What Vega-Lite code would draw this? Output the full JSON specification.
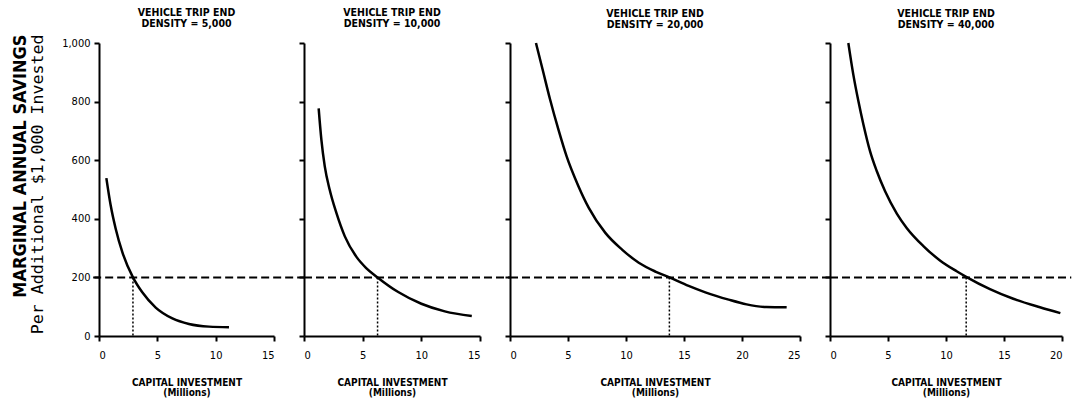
{
  "$schema": "https://vega.github.io/schema/vega-lite/v6.json",
  "background": "white",
  "padding": {"left": 12, "top": 7, "right": 5, "bottom": 2},
  "title": {
    "text": "MARGINAL ANNUAL SAVINGS",
    "subtitle": "Per Additional $1,000 Invested",
    "orient": "left",
    "anchor": "end",
    "font": "DejaVu Sans Condensed",
    "fontSize": 18,
    "fontWeight": "bold",
    "color": "black",
    "subtitleFont": "DejaVu Sans Mono",
    "subtitleFontSize": 16.6,
    "subtitleColor": "black",
    "subtitlePadding": 0,
    "offset": 15,
    "dx": -27
  },
  "datasets": {
    "curves": [
      {"panel": 1, "investment": 0.63, "savings": 539},
      {"panel": 1, "investment": 1.0, "savings": 446},
      {"panel": 1, "investment": 1.43, "savings": 366},
      {"panel": 1, "investment": 2.0, "savings": 286},
      {"panel": 1, "investment": 2.91, "savings": 200},
      {"panel": 1, "investment": 3.71, "savings": 149},
      {"panel": 1, "investment": 4.86, "savings": 97},
      {"panel": 1, "investment": 6.29, "savings": 60},
      {"panel": 1, "investment": 7.71, "savings": 41},
      {"panel": 1, "investment": 9.43, "savings": 32},
      {"panel": 1, "investment": 11.14, "savings": 30},
      {"panel": 2, "investment": 1.25, "savings": 777},
      {"panel": 2, "investment": 1.48, "savings": 670},
      {"panel": 2, "investment": 1.77, "savings": 579},
      {"panel": 2, "investment": 2.19, "savings": 499},
      {"panel": 2, "investment": 2.76, "savings": 420},
      {"panel": 2, "investment": 3.48, "savings": 340},
      {"panel": 2, "investment": 4.47, "savings": 270},
      {"panel": 2, "investment": 5.3, "savings": 232},
      {"panel": 2, "investment": 6.27, "savings": 200},
      {"panel": 2, "investment": 8.03, "savings": 150},
      {"panel": 2, "investment": 10.0, "savings": 110},
      {"panel": 2, "investment": 12.0, "savings": 84},
      {"panel": 2, "investment": 14.3, "savings": 68},
      {"panel": 3, "investment": 2.24, "savings": 1000},
      {"panel": 3, "investment": 2.87, "savings": 900},
      {"panel": 3, "investment": 3.45, "savings": 808},
      {"panel": 3, "investment": 4.17, "savings": 705},
      {"panel": 3, "investment": 4.89, "savings": 612},
      {"panel": 3, "investment": 5.89, "savings": 512},
      {"panel": 3, "investment": 6.78, "savings": 438},
      {"panel": 3, "investment": 8.22, "savings": 352},
      {"panel": 3, "investment": 9.66, "savings": 295},
      {"panel": 3, "investment": 11.1, "savings": 250},
      {"panel": 3, "investment": 12.53, "savings": 220},
      {"panel": 3, "investment": 13.74, "savings": 200},
      {"panel": 3, "investment": 15.4, "savings": 171},
      {"panel": 3, "investment": 16.84, "savings": 149},
      {"panel": 3, "investment": 18.85, "savings": 124},
      {"panel": 3, "investment": 20.4, "savings": 108},
      {"panel": 3, "investment": 22.1, "savings": 99},
      {"panel": 3, "investment": 23.85, "savings": 98},
      {"panel": 4, "investment": 1.58, "savings": 1000},
      {"panel": 4, "investment": 2.01, "savings": 892},
      {"panel": 4, "investment": 2.45, "savings": 801},
      {"panel": 4, "investment": 2.88, "savings": 722},
      {"panel": 4, "investment": 3.45, "savings": 631},
      {"panel": 4, "investment": 4.03, "savings": 563},
      {"panel": 4, "investment": 4.75, "savings": 494},
      {"panel": 4, "investment": 5.76, "savings": 418},
      {"panel": 4, "investment": 6.61, "savings": 369},
      {"panel": 4, "investment": 8.05, "savings": 307},
      {"panel": 4, "investment": 9.48, "savings": 258},
      {"panel": 4, "investment": 10.92, "savings": 221},
      {"panel": 4, "investment": 11.74, "savings": 202},
      {"panel": 4, "investment": 13.79, "savings": 160},
      {"panel": 4, "investment": 15.8, "savings": 127},
      {"panel": 4, "investment": 18.1, "savings": 98},
      {"panel": 4, "investment": 19.86, "savings": 78}
    ],
    "thresholds": [
      {"panel": 1, "savings": 200, "crossing": 2.91, "from": -0.5, "to": 17.6},
      {"panel": 2, "savings": 200, "crossing": 6.27, "from": 0, "to": 17.6},
      {"panel": 3, "savings": 200, "crossing": 13.74, "from": 0, "to": 27.7},
      {"panel": 4, "savings": 200, "crossing": 11.74, "from": 0, "to": 20.8}
    ]
  },
  "spacing": 30,
  "bounds": "flush",
  "config": {
    "view": {"stroke": null},
    "axis": {
      "domainColor": "black",
      "domainWidth": 2,
      "tickColor": "black",
      "tickWidth": 2,
      "tickSize": 5,
      "grid": false,
      "labelFont": "DejaVu Sans Condensed",
      "labelFontSize": 11,
      "labelColor": "black",
      "titleFont": "DejaVu Sans Condensed",
      "titleFontSize": 10,
      "titleFontWeight": "bold",
      "titleColor": "black",
      "titleLineHeight": 10
    },
    "axisX": {"labelPadding": 8, "titlePadding": 17},
    "axisY": {"labelPadding": 4},
    "title": {
      "font": "DejaVu Sans Condensed",
      "fontSize": 10.5,
      "fontWeight": "bold",
      "color": "black",
      "lineHeight": 11,
      "offset": 8
    }
  },
  "hconcat": [
    {
      "width": 175, "height": 293,
      "title": {"text": ["VEHICLE TRIP END", "DENSITY = 5,000"]},
      "layer": [
        {
          "data": {"name": "curves"},
          "transform": [{"filter": "datum.panel == 1"}],
          "mark": {"type": "line", "interpolate": "monotone", "color": "black", "strokeWidth": 2.5},
          "encoding": {
            "x": {"field": "investment", "type": "quantitative", "title": ["CAPITAL INVESTMENT", "(Millions)"], "scale": {"domain": [0, 15], "nice": false}, "axis": {"values": [0, 5, 10, 15]}},
            "y": {"field": "savings", "type": "quantitative", "title": null, "scale": {"domain": [0, 1000], "nice": false}, "axis": {"values": [0, 200, 400, 600, 800, 1000], "format": ",d"}}
          }
        },
        {
          "data": {"name": "thresholds"},
          "transform": [{"filter": "datum.panel == 1"}],
          "mark": {"type": "rule", "strokeDash": [8, 4], "strokeWidth": 2, "color": "black", "clip": false},
          "encoding": {
            "x": {"field": "from", "type": "quantitative", "title": ["CAPITAL INVESTMENT", "(Millions)"]},
            "x2": {"field": "to"},
            "y": {"field": "savings", "type": "quantitative", "title": null}
          }
        },
        {
          "data": {"name": "thresholds"},
          "transform": [{"filter": "datum.panel == 1"}],
          "mark": {"type": "rule", "strokeDash": [2, 2], "strokeWidth": 1.5, "color": "black"},
          "encoding": {
            "x": {"field": "crossing", "type": "quantitative", "title": ["CAPITAL INVESTMENT", "(Millions)"]},
            "y": {"field": "savings", "type": "quantitative", "title": null},
            "y2": {"datum": 0}
          }
        }
      ]
    },
    {
      "width": 176, "height": 293,
      "title": {"text": ["VEHICLE TRIP END", "DENSITY = 10,000"], "offset": 13},
      "layer": [
        {
          "data": {"name": "curves"},
          "transform": [{"filter": "datum.panel == 2"}],
          "mark": {"type": "line", "interpolate": "monotone", "color": "black", "strokeWidth": 2.5},
          "encoding": {
            "x": {"field": "investment", "type": "quantitative", "title": ["CAPITAL INVESTMENT", "(Millions)"], "scale": {"domain": [0, 15], "nice": false}, "axis": {"values": [0, 5, 10, 15]}},
            "y": {"field": "savings", "type": "quantitative", "title": null, "scale": {"domain": [0, 1000], "nice": false}, "axis": {"values": [0, 200, 400, 600, 800, 1000], "labels": false}}
          }
        },
        {
          "data": {"name": "thresholds"},
          "transform": [{"filter": "datum.panel == 2"}],
          "mark": {"type": "rule", "strokeDash": [8, 4], "strokeWidth": 2, "color": "black", "clip": false},
          "encoding": {
            "x": {"field": "from", "type": "quantitative", "title": ["CAPITAL INVESTMENT", "(Millions)"]},
            "x2": {"field": "to"},
            "y": {"field": "savings", "type": "quantitative", "title": null}
          }
        },
        {
          "data": {"name": "thresholds"},
          "transform": [{"filter": "datum.panel == 2"}],
          "mark": {"type": "rule", "strokeDash": [2, 2], "strokeWidth": 1.5, "color": "black"},
          "encoding": {
            "x": {"field": "crossing", "type": "quantitative", "title": ["CAPITAL INVESTMENT", "(Millions)"]},
            "y": {"field": "savings", "type": "quantitative", "title": null},
            "y2": {"datum": 0}
          }
        }
      ]
    },
    {
      "width": 290, "height": 293,
      "title": {"text": ["VEHICLE TRIP END", "DENSITY = 20,000"]},
      "layer": [
        {
          "data": {"name": "curves"},
          "transform": [{"filter": "datum.panel == 3"}],
          "mark": {"type": "line", "interpolate": "monotone", "color": "black", "strokeWidth": 2.5},
          "encoding": {
            "x": {"field": "investment", "type": "quantitative", "title": ["CAPITAL INVESTMENT", "(Millions)"], "scale": {"domain": [0, 25], "nice": false}, "axis": {"values": [0, 5, 10, 15, 20, 25]}},
            "y": {"field": "savings", "type": "quantitative", "title": null, "scale": {"domain": [0, 1000], "nice": false}, "axis": {"values": [0, 200, 400, 600, 800, 1000], "labels": false}}
          }
        },
        {
          "data": {"name": "thresholds"},
          "transform": [{"filter": "datum.panel == 3"}],
          "mark": {"type": "rule", "strokeDash": [8, 4], "strokeWidth": 2, "color": "black", "clip": false},
          "encoding": {
            "x": {"field": "from", "type": "quantitative", "title": ["CAPITAL INVESTMENT", "(Millions)"]},
            "x2": {"field": "to"},
            "y": {"field": "savings", "type": "quantitative", "title": null}
          }
        },
        {
          "data": {"name": "thresholds"},
          "transform": [{"filter": "datum.panel == 3"}],
          "mark": {"type": "rule", "strokeDash": [2, 2], "strokeWidth": 1.5, "color": "black"},
          "encoding": {
            "x": {"field": "crossing", "type": "quantitative", "title": ["CAPITAL INVESTMENT", "(Millions)"]},
            "y": {"field": "savings", "type": "quantitative", "title": null},
            "y2": {"datum": 0}
          }
        }
      ]
    },
    {
      "width": 232, "height": 293,
      "title": {"text": ["VEHICLE TRIP END", "DENSITY = 40,000"]},
      "layer": [
        {
          "data": {"name": "curves"},
          "transform": [{"filter": "datum.panel == 4"}],
          "mark": {"type": "line", "interpolate": "monotone", "color": "black", "strokeWidth": 2.5},
          "encoding": {
            "x": {"field": "investment", "type": "quantitative", "title": ["CAPITAL INVESTMENT", "(Millions)"], "scale": {"domain": [0, 20], "nice": false}, "axis": {"values": [0, 5, 10, 15, 20]}},
            "y": {"field": "savings", "type": "quantitative", "title": null, "scale": {"domain": [0, 1000], "nice": false}, "axis": {"values": [0, 200, 400, 600, 800, 1000], "labels": false}}
          }
        },
        {
          "data": {"name": "thresholds"},
          "transform": [{"filter": "datum.panel == 4"}],
          "mark": {"type": "rule", "strokeDash": [8, 4], "strokeWidth": 2, "color": "black", "clip": false},
          "encoding": {
            "x": {"field": "from", "type": "quantitative", "title": ["CAPITAL INVESTMENT", "(Millions)"]},
            "x2": {"field": "to"},
            "y": {"field": "savings", "type": "quantitative", "title": null}
          }
        },
        {
          "data": {"name": "thresholds"},
          "transform": [{"filter": "datum.panel == 4"}],
          "mark": {"type": "rule", "strokeDash": [2, 2], "strokeWidth": 1.5, "color": "black"},
          "encoding": {
            "x": {"field": "crossing", "type": "quantitative", "title": ["CAPITAL INVESTMENT", "(Millions)"]},
            "y": {"field": "savings", "type": "quantitative", "title": null},
            "y2": {"datum": 0}
          }
        }
      ]
    }
  ]
}
